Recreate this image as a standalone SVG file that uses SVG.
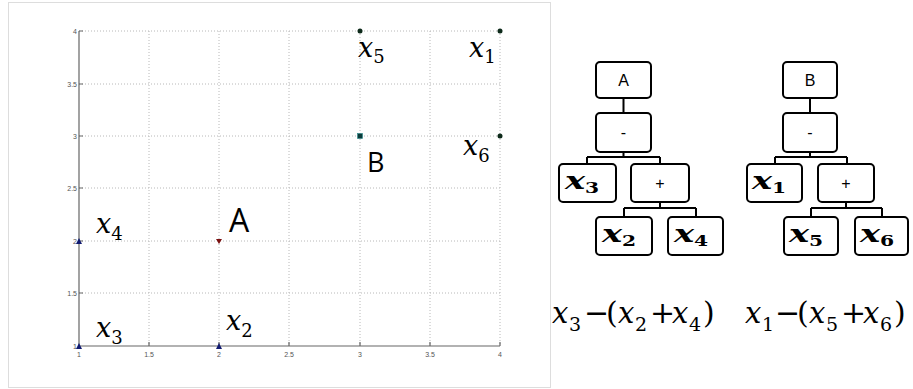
<svg xmlns="http://www.w3.org/2000/svg" width="913" height="389" viewBox="0 0 913 389">
<style>
.grid{stroke:#b8b8b8;stroke-width:1;stroke-dasharray:1,2;fill:none}
.axis{stroke:#666;stroke-width:1.2;fill:none}
.tick{font-family:"Liberation Sans",Arial,sans-serif;font-size:7px;fill:#555}
.lab{font-family:"DejaVu Serif","Liberation Serif",serif;font-size:27px;font-style:italic;fill:#000}
.sub{font-size:18px;font-style:normal}
.big{font-family:"Open Sans","Liberation Sans",Arial,sans-serif;fill:#000}
.box{fill:#fff;stroke:#000;stroke-width:2}
.conn{stroke:#000;stroke-width:2;fill:none}
.op{font-family:"Liberation Sans",Arial,sans-serif;font-size:16px;fill:#000;text-anchor:middle}
.bx{font-family:"DejaVu Serif","Liberation Serif",serif;font-size:25px;font-style:italic;font-weight:bold;fill:#000}
.bsub{font-size:15px;font-style:normal;font-weight:bold}
.f{font-family:"DejaVu Serif","Liberation Serif",serif;font-size:30px;fill:#000}
.fi{font-style:italic;font-size:29px}
.fs{font-size:19px}
</style>
<rect x="8.5" y="2.5" width="542" height="385" fill="#fff" stroke="#ddd" stroke-width="1"/>
<g id="plot">
  <g id="grid">
    <path class="grid" d="M149,31V346M219,31V346M289,31V346M360,31V346M430,31V346M500,31V346"/>
    <path class="grid" d="M79,31H500M79,84H500M79,136H500M79,188H500M79,241H500M79,293H500"/>
  </g>
  <path class="axis" d="M79,31V346H500"/>
  <path class="axis" d="M79,31h4M79,84h4M79,136h4M79,188h4M79,241h4M79,293h4M149,346v-4M219,346v-4M289,346v-4M360,346v-4M430,346v-4M500,346v-4"/>
  <g class="tick" text-anchor="end">
    <text x="77" y="34">4</text>
    <text x="77" y="87">3.5</text>
    <text x="77" y="139">3</text>
    <text x="77" y="191">2.5</text>
    <text x="77" y="244">2</text>
    <text x="77" y="296">1.5</text>
    <text x="77" y="349">1</text>
  </g>
  <g class="tick" text-anchor="middle">
    <text x="79" y="357">1</text>
    <text x="149" y="357">1.5</text>
    <text x="219" y="357">2</text>
    <text x="289" y="357">2.5</text>
    <text x="360" y="357">3</text>
    <text x="430" y="357">3.5</text>
    <text x="500" y="357">4</text>
  </g>
  <g id="points">
    <circle cx="360" cy="31" r="2.5" fill="#0d2a1a"/>
    <circle cx="500" cy="31" r="2.5" fill="#0d2a1a"/>
    <circle cx="500" cy="136" r="2.5" fill="#0d2a1a"/>
    <rect x="357.5" y="133.5" width="5" height="5" fill="#0b3b3b" stroke="#2a8a8a" stroke-width="0.6"/>
    <polygon points="216,239 222,239 219,244" fill="#7a1010"/>
    <polygon points="76,244 82,244 79,238" fill="#101a70"/>
    <polygon points="76,349 82,349 79,343" fill="#101a70"/>
    <polygon points="216,349 222,349 219,343" fill="#101a70"/>
  </g>
  <g id="labels">
    <text class="lab" x="358" y="57">x<tspan class="sub" dy="6">5</tspan></text>
    <text class="lab" x="469" y="57">x<tspan class="sub" dy="6">1</tspan></text>
    <text class="lab" x="463" y="155">x<tspan class="sub" dy="7">6</tspan></text>
    <text class="lab" x="96" y="233">x<tspan class="sub" dy="7">4</tspan></text>
    <text class="lab" x="96" y="337">x<tspan class="sub" dy="7">3</tspan></text>
    <text class="lab" x="226" y="330">x<tspan class="sub" dy="7">2</tspan></text>
    <text class="big" x="367" y="172" font-size="27">B</text>
    <text class="big" x="229" y="232" font-size="32">A</text>
  </g>
</g>
<g id="connectors">
  <path class="conn" d="M623.5,98V113M623.5,152V157M587,157H660M587,157V164M660,157V164M660,202V208M624,208H696M624,208V217M696,208V217"/>
  <path class="conn" d="M810,98V113M810,152V157M775,157H847M775,157V164M847,157V164M846,202V208M811,208H882M811,208V217M882,208V217"/>
</g>
<g id="nodeA">
  <rect class="box" x="596" y="62" width="55" height="36" rx="4"/>
  <text class="op" x="623.5" y="86">A</text>
</g>
<g id="nodeAminus">
  <rect class="box" x="596" y="113" width="55" height="39" rx="4"/>
  <text class="op" x="623.5" y="138">-</text>
</g>
<g id="nodeAx3">
  <rect class="box" x="559" y="164" width="57" height="38" rx="4"/>
  <text class="bx" transform="translate(565,189) scale(1.35,1)">x<tspan class="bsub" dy="4">3</tspan></text>
</g>
<g id="nodeAplus">
  <rect class="box" x="631" y="164" width="58" height="38" rx="4"/>
  <text class="op" x="660" y="189">+</text>
</g>
<g id="nodeAx2">
  <rect class="box" x="596" y="217" width="56" height="38" rx="4"/>
  <text class="bx" transform="translate(602,242) scale(1.35,1)">x<tspan class="bsub" dy="4">2</tspan></text>
</g>
<g id="nodeAx4">
  <rect class="box" x="668" y="217" width="55" height="38" rx="4"/>
  <text class="bx" transform="translate(674,242) scale(1.35,1)">x<tspan class="bsub" dy="4">4</tspan></text>
</g>
<g id="nodeB">
  <rect class="box" x="783" y="62" width="54" height="36" rx="4"/>
  <text class="op" x="810" y="86">B</text>
</g>
<g id="nodeBminus">
  <rect class="box" x="783" y="113" width="54" height="39" rx="4"/>
  <text class="op" x="810" y="138">-</text>
</g>
<g id="nodeBx1">
  <rect class="box" x="747" y="164" width="55" height="38" rx="4"/>
  <text class="bx" transform="translate(752,189) scale(1.35,1)">x<tspan class="bsub" dy="4">1</tspan></text>
</g>
<g id="nodeBplus">
  <rect class="box" x="818" y="164" width="56" height="38" rx="4"/>
  <text class="op" x="846" y="189">+</text>
</g>
<g id="nodeBx5">
  <rect class="box" x="784" y="217" width="54" height="38" rx="4"/>
  <text class="bx" transform="translate(789,242) scale(1.35,1)">x<tspan class="bsub" dy="4">5</tspan></text>
</g>
<g id="nodeBx6">
  <rect class="box" x="855" y="217" width="53" height="38" rx="4"/>
  <text class="bx" transform="translate(860,242) scale(1.35,1)">x<tspan class="bsub" dy="4">6</tspan></text>
</g>
<g id="formulas">
  <text class="f" y="323"><tspan class="fi" x="552">x</tspan><tspan class="fs" x="569" dy="8">3</tspan><tspan x="584" dy="-8">−</tspan><tspan x="606">(</tspan><tspan class="fi" x="618">x</tspan><tspan class="fs" x="635" dy="8">2</tspan><tspan x="650" dy="-8">+</tspan><tspan class="fi" x="672">x</tspan><tspan class="fs" x="689" dy="8">4</tspan><tspan x="703" dy="-8">)</tspan></text>
  <text class="f" y="323"><tspan class="fi" x="745">x</tspan><tspan class="fs" x="762" dy="8">1</tspan><tspan x="775" dy="-8">−</tspan><tspan x="797">(</tspan><tspan class="fi" x="809">x</tspan><tspan class="fs" x="826" dy="8">5</tspan><tspan x="841" dy="-8">+</tspan><tspan class="fi" x="863">x</tspan><tspan class="fs" x="880" dy="8">6</tspan><tspan x="894" dy="-8">)</tspan></text>
</g>
</svg>
